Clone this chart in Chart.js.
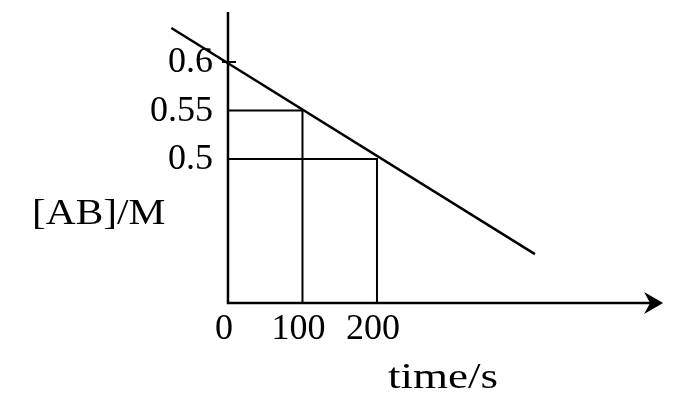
<!DOCTYPE html>
<html>
<head>
<meta charset="utf-8">
<script src="https://cdn.jsdelivr.net/npm/chart.js@4"></script>
<style>
  body { margin: 0; background: #fff; }
  canvas { display: block; }
</style>
</head>
<body>
<canvas id="myChart" width="675" height="416"></canvas>
<script>
// values
const lineTimes = [-76, 412];
const lineConc = [0.635, 0.402];
const guideTimes = [100, 200];
const guideConc = [0.55, 0.5];
const yTicks = [0.6, 0.55, 0.5];
const yTickLabels = ['0.6', '0.55', '0.5'];
const xTicks = [0, 100, 200];
const xTickLabels = ['0', '100', '200'];
const axisBase = 0.3515;
const axisTop = 0.6515;
const axisEnd = 580;

const FONT = '36px "Liberation Serif", serif';

const datasets = [
  {
    data: lineTimes.map((t, i) => ({ x: t, y: lineConc[i] })),
    borderColor: '#000', borderWidth: 2.5
  },
  // axes
  {
    data: [{ x: 0, y: axisTop }, { x: 0, y: axisBase }, { x: axisEnd, y: axisBase }],
    borderColor: '#000', borderWidth: 2.5
  }
];
guideTimes.forEach((t, i) => {
  datasets.push({
    data: [{ x: 0, y: guideConc[i] }, { x: t, y: guideConc[i] }, { x: t, y: axisBase }],
    borderColor: '#000', borderWidth: 2
  });
});
datasets.forEach(d => {
  d.showLine = true;
  d.pointRadius = 0;
  d.fill = false;
  d.tension = 0;
});

// text with a bit of horizontal stretch (the book font is wider)
function stretchText(ctx, txt, x, y, sx) {
  ctx.save();
  ctx.translate(x, y);
  ctx.scale(sx, 1);
  ctx.fillText(txt, 0, 0);
  ctx.restore();
}

const labelsPlugin = {
  id: 'labels',
  afterDraw(chart) {
    const ctx = chart.ctx;
    const xs = chart.scales.x, ys = chart.scales.y;
    ctx.save();
    ctx.fillStyle = '#000';
    ctx.strokeStyle = '#000';
    ctx.font = FONT;

    // small tick mark at 0.6
    const x0 = xs.getPixelForValue(0);
    const y06 = ys.getPixelForValue(0.6);
    ctx.lineWidth = 2;
    ctx.beginPath();
    ctx.moveTo(x0 - 6, y06);
    ctx.lineTo(x0 + 8, y06);
    ctx.stroke();

    // arrow head on time axis
    const ax = xs.getPixelForValue(axisEnd);
    const ay = ys.getPixelForValue(axisBase);
    ctx.beginPath();
    ctx.moveTo(ax + 3, ay);
    ctx.lineTo(ax - 16, ay - 11);
    ctx.lineTo(ax - 10, ay);
    ctx.lineTo(ax - 16, ay + 11);
    ctx.closePath();
    ctx.fill();

    ctx.textAlign = 'right';
    ctx.textBaseline = 'alphabetic';
    yTicks.forEach((v, i) => {
      ctx.fillText(yTickLabels[i], x0 - 15, ys.getPixelForValue(v) + 10);
    });

    ctx.textAlign = 'center';
    xTicks.forEach((t, i) => {
      ctx.fillText(xTickLabels[i], xs.getPixelForValue(t) - 4, ay + 36);
    });

    ctx.textAlign = 'left';
    stretchText(ctx, '[AB]/M', 32, 224, 1.15);
    ctx.textAlign = 'center';
    stretchText(ctx, 'time/s', 443, 388, 1.25);
    ctx.restore();
  }
};

const ctx = document.getElementById('myChart').getContext('2d');
new Chart(ctx, {
  type: 'scatter',
  data: { datasets: datasets },
  options: {
    responsive: false,
    animation: false,
    layout: { padding: 0 },
    plugins: { legend: { display: false }, tooltip: { enabled: false } },
    scales: {
      x: { type: 'linear', min: -306, max: 600, display: false },
      y: { type: 'linear', min: 0.2351, max: 0.6639, display: false }
    }
  },
  plugins: [labelsPlugin]
});
</script>
</body>
</html>
